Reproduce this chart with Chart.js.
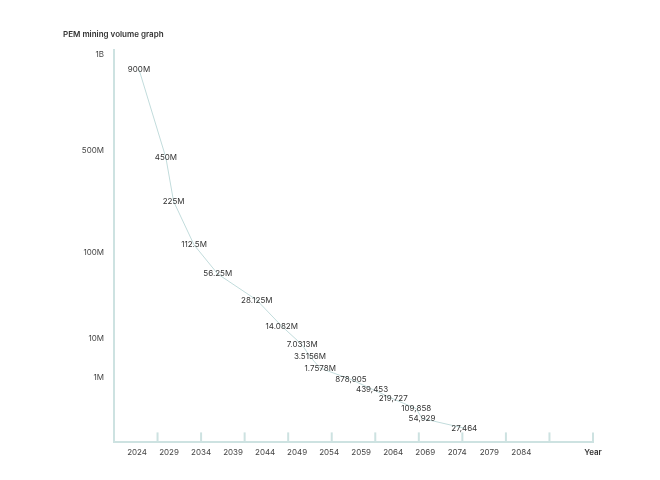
<!DOCTYPE html>
<html>
<head>
<meta charset="utf-8">
<script src="https://cdn.jsdelivr.net/npm/chart.js@4"></script>
<style>
  html, body { margin: 0; padding: 0; background: #fff; }
  #wrap { width: 660px; height: 480px; }
</style>
</head>
<body>
<div id="wrap"><canvas id="grafico"></canvas></div>
<script>
const anos = [2024.3, 2028.5, 2029.7, 2032.9, 2036.6, 2042.7, 2046.6, 2049.8, 2051.0, 2052.6, 2057.4, 2060.7, 2064.0, 2067.6, 2068.5, 2075.1];
const volume = [900e6, 450e6, 225e6, 112.5e6, 56.25e6, 28.125e6, 14.082e6, 7.0313e6, 3.5156e6, 1.7578e6, 878905, 439453, 219727, 109858, 54929, 27464];
const rotulos = ["900M", "450M", "225M", "112.5M", "56.25M", "28.125M", "14.082M", "7.0313M", "3.5156M", "1.7578M", "878,905", "439,453", "219,727", "109,858", "54,929", "27,464"];
const anosEixo = [2024, 2029, 2034, 2039, 2044, 2049, 2054, 2059, 2064, 2069, 2074, 2079, 2084];
const valoresEixoY = [1e9, 5e8, 1e8, 1e7, 1e6];
const rotulosEixoY = ["1B", "500M", "100M", "10M", "1M"];

// escala do eixo y: log por trechos (valor -> fração da altura)
const paradasY = [[1e9, 0.987], [5e8, 0.742], [1e8, 0.484], [1e7, 0.263], [1e6, 0.165], [1e4, 0]];

function paraDecimal(v) {
    const l = Math.log10(Math.max(v, 1));
    for (let i = 0; i < paradasY.length - 1; i++) {
        const l0 = Math.log10(paradasY[i][0]), d0 = paradasY[i][1];
        const l1 = Math.log10(paradasY[i + 1][0]), d1 = paradasY[i + 1][1];
        if (l >= l1 || i === paradasY.length - 2) {
            return d1 + (l - l1) / (l0 - l1) * (d0 - d1);
        }
    }
}

class EscalaPem extends Chart.Scale {
    determineDataLimits() {
        this.min = paradasY[paradasY.length - 1][0];
        this.max = paradasY[0][0];
    }
    buildTicks() {
        return valoresEixoY.map(v => ({ value: v }));
    }
    getLabelForValue(v) {
        return String(v);
    }
    getPixelForValue(v) {
        return this.getPixelForDecimal(paraDecimal(v));
    }
    getValueForPixel(p) {
        return p;
    }
}
EscalaPem.id = "pem";
EscalaPem.defaults = {};
Chart.register(EscalaPem);

const corEixo = "#cde2e1";
const fonte = "Inter, 'Noto Sans', sans-serif";

// tracinhos do eixo x (virados para dentro)
const tracos = {
    id: "tracos",
    afterDraw(chart) {
        const { ctx, chartArea } = chart;
        const n = 11;
        ctx.save();
        ctx.strokeStyle = corEixo;
        ctx.lineWidth = 2;
        for (let k = 1; k <= n; k++) {
            const x = chartArea.left + k * (chartArea.right - chartArea.left) / n;
            ctx.beginPath();
            ctx.moveTo(x, chartArea.bottom);
            ctx.lineTo(x, chartArea.bottom - 10);
            ctx.stroke();
        }
        ctx.restore();
    },
};

// rótulos dos pontos
const rotulosPontos = {
    id: "rotulosPontos",
    afterDatasetsDraw(chart) {
        const { ctx } = chart;
        const meta = chart.getDatasetMeta(0);
        ctx.save();
        ctx.font = "8px " + fonte;
        ctx.fillStyle = "#333";
        ctx.textAlign = "center";
        ctx.textBaseline = "middle";
        meta.data.forEach((pt, i) => {
            ctx.fillText(rotulos[i], pt.x, pt.y);
        });
        ctx.restore();
    },
};

const ctx = document.getElementById("grafico");

new Chart(ctx, {
    type: "line",
    data: {
        datasets: [
            {
                label: "PEM",
                data: anos.map((a, i) => ({ x: a, y: volume[i] })),
                borderColor: "#c2dcdc",
                borderWidth: 1,
                pointRadius: 0,
                tension: 0,
                fill: false,
            },
        ],
    },
    options: {
        responsive: true,
        maintainAspectRatio: false,
        animation: false,
        layout: {
            padding: { left: 63, right: 67, top: 30, bottom: 18 },
        },
        plugins: {
            legend: { display: false },
            tooltip: { enabled: false },
            title: {
                display: true,
                text: "PEM mining volume graph",
                align: "start",
                color: "#333",
                font: { family: fonte, size: 8, weight: "600" },
                padding: { top: 0, bottom: 10 },
            },
        },
        scales: {
            x: {
                type: "linear",
                min: 2020.4,
                max: 2095.2,
                afterBuildTicks: (scale) => {
                    scale.ticks = anosEixo.map(v => ({ value: v })).concat([{ value: scale.max }]);
                },
                grid: { display: false, drawTicks: false },
                border: { display: true, color: corEixo, width: 2 },
                ticks: {
                    autoSkip: false,
                    maxRotation: 0,
                    padding: 5,
                    color: (c) => (c.tick && c.tick.label === "Year" ? "#333" : "#444"),
                    font: (c) => ({
                        family: fonte,
                        size: 8,
                        weight: c.tick && c.tick.label === "Year" ? "600" : "400",
                    }),
                    callback: (v) => (v === 2095.2 ? "Year" : String(v)),
                },
            },
            y: {
                type: "pem",
                position: "left",
                afterFit: (scale) => {
                    scale.width = 51;
                },
                grid: { display: false, drawTicks: false },
                border: { display: true, color: corEixo, width: 2 },
                ticks: {
                    padding: 10,
                    color: "#444",
                    font: { family: fonte, size: 8 },
                    callback: (v, i) => rotulosEixoY[i],
                },
            },
        },
    },
    plugins: [tracos, rotulosPontos],
});
</script>
</body>
</html>
